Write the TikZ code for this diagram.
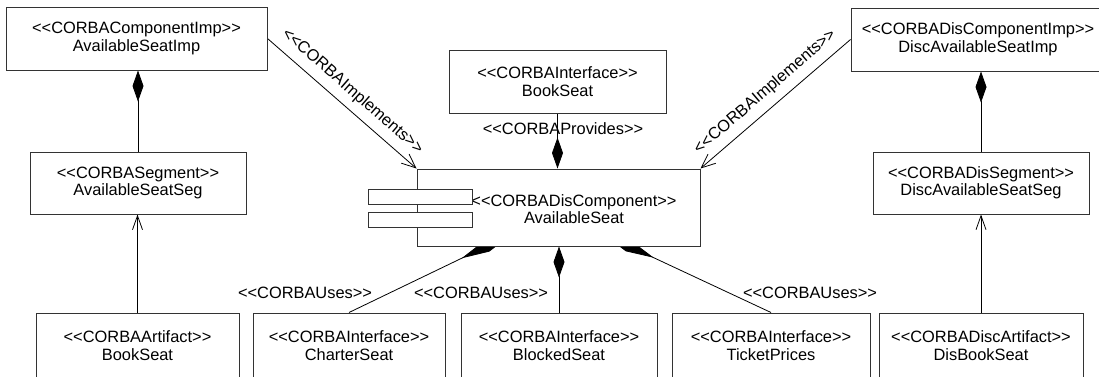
\documentclass[tikz,border=0pt]{standalone}
\usepackage{fontspec}
\setmainfont{Liberation Sans}
\usetikzlibrary{arrows.meta,backgrounds}
\newcommand{\sttp}[1]{<{}<#1>{}>}
\begin{document}
\begin{tikzpicture}[x=1pt,y=-1pt,
  txt/.style={font=\fontsize{16.4}{17.5}\selectfont},
  box/.style={txt,draw=black!80,line width=1pt,fill=white,align=center,inner sep=0pt},
  lbl/.style={txt,inner sep=1pt,align=center},
  conn/.style={line width=0.8pt,draw=black},
  comp/.style={conn,-{Diamond[length=31pt,width=11pt]}},
  compd/.style={conn,-{Diamond[length=56pt,width=12pt]}},
  opn/.style={conn,-{Straight Barb[length=14pt,width=10pt,line width=0.8pt]}},
  impl/.style={conn,-{Straight Barb[length=14pt,width=12pt,line width=0.8pt]}}
]
\useasboundingbox (0,0) rectangle (1099,376);

% top row
\node[box,minimum width=261pt,minimum height=63pt] (imp) at (136.5,38.5) {\sttp{CORBAComponentImp}\\AvailableSeatImp};
\node[box,minimum width=217pt,minimum height=63pt] (bsi) at (557.5,81.5) {\sttp{CORBAInterface}\\BookSeat};
\node[box,minimum width=254pt,minimum height=63pt] (dimp) at (978,39.5) {\sttp{CORBADisComponentImp}\\DiscAvailableSeatImp};

% middle row
\node[box,minimum width=216pt,minimum height=62pt] (seg) at (138,183) {\sttp{CORBASegment}\\AvailableSeatSeg};
\node[box,minimum width=216pt,minimum height=62pt] (dseg) at (981,183) {\sttp{CORBADisSegment}\\DiscAvailableSeatSeg};
\node[box,minimum width=283pt,minimum height=77pt] (main) at (558.5,207.5) {};
\node[lbl] (maintxt) at (574,209) {\sttp{CORBADisComponent}\\AvailableSeat};
\node[box,minimum width=104pt,minimum height=15pt] (r1) at (420,196.5) {};
\node[box,minimum width=104pt,minimum height=15pt] (r2) at (420,219.5) {};

% bottom row
\node[box,minimum width=203pt,minimum height=65pt] (art) at (137.5,345.5) {\sttp{CORBAArtifact}\\BookSeat};
\node[box,minimum width=192pt,minimum height=65pt] (chr) at (349,345.5) {\sttp{CORBAInterface}\\CharterSeat};
\node[box,minimum width=196pt,minimum height=65pt] (blk) at (559,345.5) {\sttp{CORBAInterface}\\BlockedSeat};
\node[box,minimum width=198pt,minimum height=65pt] (tkt) at (771,345.5) {\sttp{CORBAInterface}\\TicketPrices};
\node[box,minimum width=204pt,minimum height=65pt] (dart) at (981,345.5) {\sttp{CORBADiscArtifact}\\DisBookSeat};

\coordinate (tipC) at (512,234);
\coordinate (tipT) at (603,234);

\begin{pgfonlayer}{background}
  \draw[comp] (seg.north) -- (seg.north |- imp.south);
  \draw[opn] (art.north) -- (art.north |- seg.south);
  \draw[comp] (dseg.north) -- (dseg.north |- dimp.south);
  \draw[opn] (dart.north) -- (dart.north |- dseg.south);
  \draw[impl] (imp.east) -- (main.north west);
  \draw[impl] (dimp.west) -- (main.north east);
  \draw[comp] (bsi.south) -- (bsi.south |- main.north);
  \draw[comp] (blk.north) -- (blk.north |- main.south);
  \draw[compd] (chr.north) -- (tipC);
  \draw[compd] (tkt.north) -- (tipT);
\end{pgfonlayer}

\path (imp.east) -- (main.north west) node[lbl,midway,sloped,above=7pt] (limpl) {\sttp{CORBAImplements}};
\path (main.north east) -- (dimp.west) node[lbl,midway,sloped,above=7pt] (rimpl) {\sttp{CORBAImplements}};
\node[lbl] (prov) at (563,129) {\sttp{CORBAProvides}};
\node[lbl] (u1) at (305,293) {\sttp{CORBAUses}};
\node[lbl] (u2) at (481,293) {\sttp{CORBAUses}};
\node[lbl] (u3) at (810,293) {\sttp{CORBAUses}};
\end{tikzpicture}
\end{document}
